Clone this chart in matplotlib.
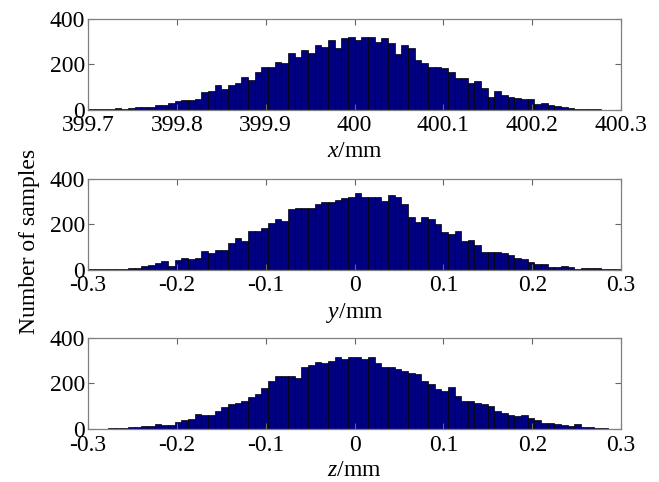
import matplotlib
matplotlib.use('Agg')
import matplotlib.pyplot as plt
import numpy as np

plt.rcParams['font.family'] = ['Liberation Serif', 'DejaVu Serif']
plt.rcParams['mathtext.fontset'] = 'custom'
plt.rcParams['mathtext.it'] = 'Liberation Serif:italic'
plt.rcParams['mathtext.rm'] = 'Liberation Serif'
plt.rcParams['axes.unicode_minus'] = False
plt.rcParams['font.size'] = 17

# bin counts (80 bins over +-0.3 mm)
x_counts = [2, 3, 4, 4, 8, 5, 8, 12, 13, 12,
            20, 22, 30, 40, 43, 45, 50, 80, 85, 108,
            92, 108, 117, 145, 132, 165, 187, 190, 212, 208,
            248, 234, 262, 250, 285, 278, 306, 270, 314, 318,
            305, 320, 322, 300, 315, 293, 245, 286, 271, 220,
            205, 188, 188, 185, 168, 139, 139, 120, 125, 95,
            56, 83, 66, 56, 52, 50, 48, 25, 29, 22,
            18, 14, 7, 4, 2, 2, 2, 1, 1, 1]

y_counts = [2, 2, 3, 3, 4, 5, 10, 8, 16, 20,
            29, 37, 19, 44, 54, 47, 51, 84, 73, 86,
            86, 117, 139, 127, 171, 171, 183, 205, 224, 215,
            267, 271, 271, 271, 289, 300, 300, 308, 315, 318,
            337, 322, 322, 318, 303, 330, 318, 289, 234, 212,
            231, 223, 200, 168, 157, 171, 125, 130, 110, 78,
            78, 78, 73, 66, 54, 48, 34, 25, 25, 15,
            12, 19, 15, 4, 10, 9, 7, 4, 4, 6]

z_counts = [1, 1, 2, 3, 4, 6, 10, 9, 12, 15,
            22, 16, 19, 31, 40, 46, 66, 61, 63, 78,
            96, 108, 115, 123, 140, 155, 182, 211, 233, 233,
            233, 223, 270, 280, 292, 288, 300, 317, 307, 317,
            317, 307, 314, 288, 270, 270, 263, 255, 244, 241,
            211, 196, 174, 168, 185, 145, 125, 125, 115, 108,
            100, 78, 68, 60, 58, 63, 50, 40, 25, 25,
            20, 16, 14, 20, 8, 8, 3, 3, 2, 2]

nominal = [400.0, 0.0, 0.0]
labels = ['$x$/mm', '$y$/mm', '$z$/mm']
y_ticks = [0, 200, 400]

fig = plt.figure(figsize=(6.59, 4.82), dpi=100)

bottoms = [0.772, 0.440, 0.110]
panels = [x_counts, y_counts, z_counts]

for counts, c0, lab, b in zip(panels, nominal, labels, bottoms):
    ax = fig.add_axes([0.1335, b, 0.809, 0.189])
    edges = c0 + np.linspace(-0.3, 0.3, len(counts) + 1)
    ax.hist(edges[:-1], bins=edges, weights=counts,
            facecolor='#000080', edgecolor='black', linewidth=0.5)
    ax.set_xlim(c0 - 0.3, c0 + 0.3)
    ax.set_ylim(0, 400)
    xt = c0 + np.arange(-0.3, 0.31, 0.1)
    ax.set_xticks(xt)
    ax.set_xticklabels(['%g' % round(v, 1) for v in xt])
    ax.set_yticks(y_ticks)
    ax.tick_params(direction='in', top=True, right=True, length=4,
                   color='#666666', labelsize=17)
    ax.tick_params(axis='x', pad=4)
    ax.tick_params(axis='y', pad=2)
    for s in ax.spines.values():
        s.set_color('#808080')
        s.set_linewidth(0.9)
    ax.set_xlabel(lab, fontsize=17, labelpad=3)

fig.text(0.045, 0.5, 'Number of samples', rotation=90,
         ha='center', va='center', fontsize=17)

fig.savefig('out.png', dpi=100)
